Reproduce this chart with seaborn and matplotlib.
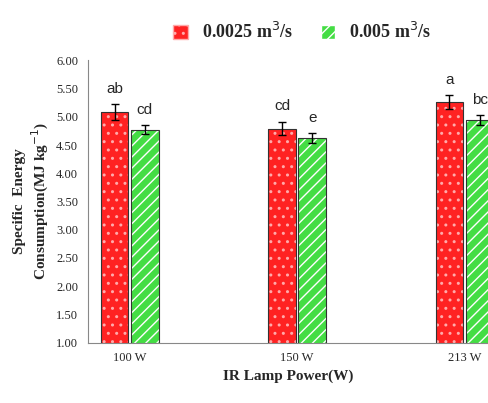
import matplotlib
matplotlib.use("Agg")
import matplotlib.pyplot as plt
import seaborn as sns
import pandas as pd

powers = ["100 W", "150 W", "213 W"]
flows = ["0.0025 m$^3$/s", "0.005 m$^3$/s"]
vals_a = [5.08, 4.79, 5.26]
vals_b = [4.77, 4.62, 4.94]
err_a = [0.14, 0.12, 0.12]
err_b = [0.08, 0.09, 0.09]
letters_a = ["ab", "cd", "a"]
letters_b = ["cd", "e", "bc"]

df = pd.DataFrame({"power": powers * 2, "flow": [flows[0]] * 3 + [flows[1]] * 3,
                   "val": vals_a + vals_b})
sns.set_style("white")
plt.rcParams['font.family'] = ['Liberation Serif']
fig = plt.figure(figsize=(4.88, 4.03), dpi=100)
ax = fig.add_axes([0.18, 0.15, 0.82, 0.70])
colors = ["#ff2222", "#44dd44"]
sns.barplot(data=df, x="power", y="val", hue="flow", palette=colors, width=0.36,
            ax=ax, legend=False, saturation=1)
hatches = ["..", "///"]
hcols = ["#ffaaaa", "white"]
errs = [err_a, err_b]
labs = [letters_a, letters_b]
vals = [vals_a, vals_b]
conts = list(ax.containers)
for ci, cont in enumerate(conts):
    for i, p in enumerate(cont.patches):
        w = p.get_width() * 0.92
        x = p.get_x() + p.get_width() / 2
        p.set_width(w); p.set_x(x - w / 2)
        p.set_hatch(hatches[ci]); p.set_edgecolor(hcols[ci]); p.set_linewidth(0)
        ax.bar(x, p.get_height(), width=w, fill=False, edgecolor="#333333", linewidth=0.8)
        ax.errorbar(x, vals[ci][i], yerr=errs[ci][i], color="black", capsize=3, lw=1)
        ax.text(x, vals[ci][i] + errs[ci][i] + 0.15, labs[ci][i], ha="center", va="bottom",
                fontsize=11, family="Liberation Sans")
ax.set_ylim(1, 6)
ax.set_yticks([1 + 0.5 * k for k in range(11)])
ax.set_yticklabels([f"{1 + 0.5 * k:.2f}" for k in range(11)], fontsize=9)
ax.set_xlim(-0.25, 2.14)
ax.tick_params(axis="x", labelsize=9)
ax.set_xlabel("IR Lamp Power(W)", fontsize=11, fontweight="bold")
ax.set_ylabel("Specific  Energy\nConsumption(MJ kg$^{-1}$)", fontsize=11, fontweight="bold")
for s in ["top", "right"]:
    ax.spines[s].set_visible(False)
for s in ["left", "bottom"]:
    ax.spines[s].set_color("#888888")
from matplotlib.patches import Patch
handles = [Patch(facecolor=colors[k], hatch=hatches[k], edgecolor=hcols[k]) for k in range(2)]
fig.legend(handles, flows, loc="upper center", bbox_to_anchor=(0.62, 0.985), ncol=2, frameon=False,
           prop={"family": "Liberation Serif", "weight": "bold", "size": 13},
           handlelength=0.8, handleheight=0.8, columnspacing=1.5)
fig.savefig("out.png", dpi=100)
